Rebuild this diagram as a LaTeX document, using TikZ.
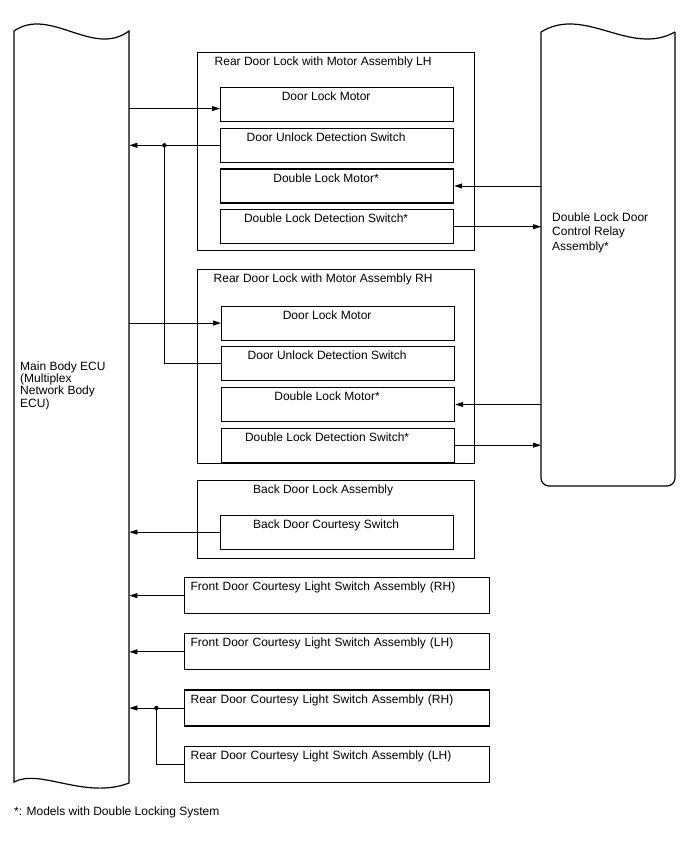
\documentclass[tikz,border=0pt]{standalone}
\usepackage{fontspec}
\setmainfont{Liberation Sans}
\usetikzlibrary{arrows.meta,positioning,calc}

\begin{document}
\begin{tikzpicture}[
  x=1pt, y=-1pt,
  node distance=5.5pt,
  font=\fontsize{12}{12}\selectfont,
  grp/.style={draw, line width=1.2pt, anchor=north west, minimum width=277pt, inner ysep=3pt, text height=10pt, text depth=#1-16pt, execute at begin node=\hspace*{-26pt}},
  part/.style={draw, line width=1.2pt, anchor=north west, minimum width=233pt, inner ysep=3pt, text height=10pt, text depth=18pt, execute at begin node=\hspace*{-22pt}},
  cbox/.style={draw, line width=1.2pt, anchor=north west, text width=293pt, align=left, inner xsep=6pt, inner ysep=3pt, text height=10pt, text depth=20pt},
  hid/.style={anchor=north west, inner sep=0pt},
  txt/.style={anchor=base west, align=left, inner sep=0pt},
  wire/.style={line width=0.8pt},
  arr/.style={wire, -{Triangle[length=8pt,width=5pt]}},
  dot/.style={fill, radius=2.2pt}
]
\useasboundingbox (0,0) rectangle (688,852);

\node[hid, minimum width=115pt, minimum height=752pt] (ecu) at (14,31) {};
\draw[line width=1.2pt] (14,31) .. controls (50,6) and (93,58) .. (129,31) -- (129,783)
  .. controls (85,800) and (40,768) .. (14,782) -- cycle;
\node[txt, font=\fontsize{12}{12.2}\selectfont] (ecut) at (20,407) {Main Body ECU\\(Multiplex\\Network Body\\ECU)};

\node[hid, minimum width=134pt, minimum height=454pt] (relay) at (541,32) {};
\draw[line width=1.2pt, rounded corners=8pt] (541,32) -- (541,486) -- (675,486) -- (675,32);
\draw[line width=1.2pt] (541,32) .. controls (585,5) and (630,57) .. (675,32);
\node[txt, font=\fontsize{12}{14.5}\selectfont] (relayt) at (552,250) {Double Lock Door\\Control Relay\\Assembly*};

\node[grp=198pt] (rdlL) at (197,52) {Rear Door Lock with Motor Assembly LH};
\node[part] (lmL) at (220,87) {Door Lock Motor};
\node[part, below=of lmL] (ulL) {Door Unlock Detection Switch};
\node[part, below=of ulL] (dmL) {Double Lock Motor*};
\node[part, below=of dmL] (ddL) {Double Lock Detection Switch*};

\node[grp=194pt] (rdlR) at (197,269) {Rear Door Lock with Motor Assembly RH};
\node[part] (lmR) at (221,305.5) {Door Lock Motor};
\node[part, below=of lmR] (ulR) {Door Unlock Detection Switch};
\node[part, below=of ulR] (dmR) {Double Lock Motor*};
\node[part, below=of dmR] (ddR) {Double Lock Detection Switch*};

\node[grp=78pt] (bdl) at (197,480) {Back Door Lock Assembly};
\node[part] (bcs) at (220,514.5) {Back Door Courtesy Switch};

\node[cbox] (frh) at (184,577) {Front Door Courtesy Light Switch Assembly (RH)};
\node[cbox, below=19pt of frh] (flh) {Front Door Courtesy Light Switch Assembly (LH)};
\node[cbox, below=19pt of flh] (rrh) {Rear Door Courtesy Light Switch Assembly (RH)};
\node[cbox, below=19pt of rrh] (rlh) {Rear Door Courtesy Light Switch Assembly (LH)};

\node[txt] (note) at (14,815) {*: Models with Double Locking System};

\draw[arr] ($(ecu.east |- lmL.west)+(0,4)$) -- ($(lmL.west)+(0,4)$);
\draw[arr] (ulL.west) -- (ecu.east |- ulL.west);
\coordinate (jL) at ($(ecu.east |- ulL.west)+(35,0)$);
\draw[wire] (ulR.west) -| (jL);
\fill[dot] (jL) circle;
\draw[arr] (relay.west |- dmL.east) -- (dmL.east);
\draw[arr] (ddL.east) -- (relay.west |- ddL.east);

\draw[arr] (ecu.east |- lmR.west) -- (lmR.west);
\draw[arr] (relay.west |- dmR.east) -- (dmR.east);
\draw[arr] (ddR.east) -- (relay.west |- ddR.east);

\draw[arr] (bcs.west) -- (ecu.east |- bcs.west);
\draw[arr] (frh.west) -- (ecu.east |- frh.west);
\draw[arr] (flh.west) -- (ecu.east |- flh.west);
\draw[arr] (rrh.west) -- (ecu.east |- rrh.west);
\coordinate (jR) at ($(ecu.east |- rrh.west)+(27,0)$);
\draw[wire] (rlh.west) -| (jR);
\fill[dot] (jR) circle;
\end{tikzpicture}
\end{document}
